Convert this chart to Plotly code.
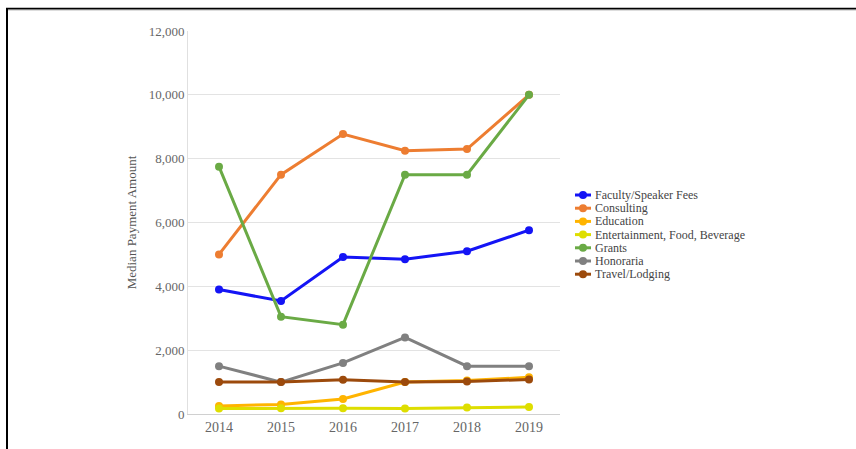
import plotly.graph_objects as go

years = ["2014", "2015", "2016", "2017", "2018", "2019"]
series_names = ["Faculty/Speaker Fees", "Consulting", "Education",
                "Entertainment, Food, Beverage", "Grants", "Honoraria", "Travel/Lodging"]
faculty = [3900, 3540, 4920, 4850, 5100, 5760]
consulting = [5000, 7500, 8770, 8250, 8300, 10000]
education = [250, 300, 470, 1000, 1050, 1150]
entertainment = [170, 180, 180, 170, 200, 220]
grants = [7750, 3050, 2800, 7500, 7500, 10000]
honoraria = [1500, 1000, 1600, 2400, 1500, 1500]
travel = [1000, 1000, 1070, 1000, 1020, 1080]
y_ticks = [0, 2000, 4000, 6000, 8000, 10000, 12000]

values = [faculty, consulting, education, entertainment, grants, honoraria, travel]
colors = ["#1414f5", "#ed7d31", "#ffb400", "#dede00", "#6aaa45", "#808080", "#9c4a0c"]

W, H = 856, 449
L, R, T, B = 188, 560, 31, 414

def px(x):
    return (x - L) / (R - L)

def py(y):
    return (B - y) / (B - T)

fig = go.Figure()
for name, vals, c in zip(series_names, values, colors):
    fig.add_trace(go.Scatter(x=years, y=vals, name=name, mode="lines+markers",
                             line=dict(color=c, width=3),
                             marker=dict(color=c, size=8), showlegend=False))

font = "Liberation Serif, Times New Roman, serif"
shapes = []
annotations = []
# custom compact legend
for i, (name, c) in enumerate(zip(series_names, colors)):
    yy = 195 + 13.2 * i
    shapes.append(dict(type="line", xref="paper", yref="paper",
                       x0=px(575), x1=px(591), y0=py(yy), y1=py(yy),
                       line=dict(color=c, width=3)))
    shapes.append(dict(type="circle", xref="paper", yref="paper",
                       x0=px(579), x1=px(587), y0=py(yy + 4), y1=py(yy - 4),
                       fillcolor=c, line=dict(color=c, width=0)))
    annotations.append(dict(text=name, xref="paper", yref="paper",
                            x=px(593), y=py(yy), xanchor="left", yanchor="middle",
                            showarrow=False,
                            font=dict(family=font, size=12, color="#444")))

# page frame
shapes.append(dict(type="line", xref="paper", yref="paper",
                   x0=px(6), x1=px(856), y0=py(8.7), y1=py(8.7),
                   line=dict(color="black", width=2)))
shapes.append(dict(type="line", xref="paper", yref="paper",
                   x0=px(6), x1=px(856), y0=py(10), y1=py(10),
                   line=dict(color="#bbbbbb", width=1)))
shapes.append(dict(type="line", xref="paper", yref="paper",
                   x0=px(7), x1=px(7), y0=py(8), y1=py(449),
                   line=dict(color="black", width=2)))

fig.update_layout(
    width=W, height=H,
    margin=dict(l=L, r=W - R, t=T, b=H - B),
    paper_bgcolor="white", plot_bgcolor="white",
    font=dict(family=font, color="#666"),
    showlegend=False,
    shapes=shapes, annotations=annotations,
    xaxis=dict(type="category", range=[-0.5, 5.5], showgrid=False,
               showline=True, linecolor="#d0d0d0", linewidth=1,
               ticks="", tickfont=dict(size=14, color="#666")),
    yaxis=dict(range=[0, 12000], tickvals=y_ticks,
               ticktext=[f"{v:,}" for v in y_ticks],
               showgrid=True, gridcolor="#e3e3e3", gridwidth=1,
               showline=True, linecolor="#e0e0e0", zeroline=False,
               ticks="", tickfont=dict(size=13, color="#666"),
               title=dict(text="Median Payment Amount", standoff=9,
                          font=dict(size=13, color="#555"))),
)

fig.write_html("out.html", config={"displayModeBar": False},
               post_script="document.body.style.margin='0';document.body.style.overflow='hidden';")
